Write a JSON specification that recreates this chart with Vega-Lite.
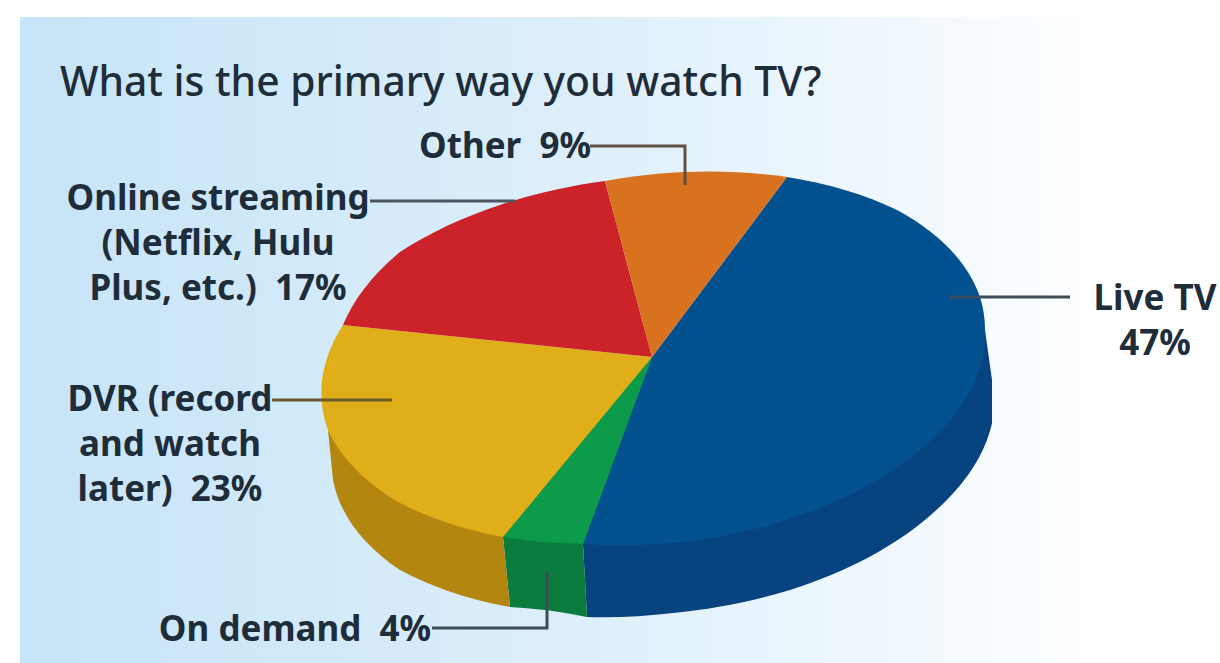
{"$schema":"https://vega.github.io/schema/vega-lite/v6.json","width":1220,"height":663,"padding":0,"autosize":{"type":"fit","contains":"padding"},"background":"#ffffff","view":{"stroke":null},
"datasets":{"shares":[{"category":"Live TV","share":47,"label":"Live TV\n47%"},{"category":"On demand","share":4,"label":"On demand\u00a0\u00a04%"},{"category":"DVR","share":23,"label":"DVR (record\nand watch\nlater)\u00a0\u00a023%"},{"category":"Online streaming","share":17,"label":"Online streaming\n(Netflix, Hulu\nPlus, etc.)\u00a0\u00a017%"},{"category":"Other","share":9,"label":"Other\u00a0\u00a09%"}]},
"data":{"name":"shares"},
"layer":[
{"data":{"values":[{"panel":"background"}]},"mark":{"type":"rect","fill":{"gradient":"linear","x1":0,"y1":0,"x2":1,"y2":0,"stops":[{"offset":0,"color":"#c6e4f7"},{"offset":0.45,"color":"#dceefa"},{"offset":0.78,"color":"#f4fafe"},{"offset":0.9,"color":"#ffffff"},{"offset":1,"color":"#ffffff"}]}},"encoding":{"x":{"value":20},"x2":{"value":1220},"y":{"value":17},"y2":{"value":663}}},
{"mark":{"type":"point","filled":true,"size":4,"opacity":1,"strokeWidth":0,"x":652,"y":357},"encoding":{"shape":{"field":"category","type":"nominal","legend":null,"scale":{"domain":["Live TV","On demand","DVR"],"range":["M333 -27L340 23L340 66A335 188 -6 0 1 281 156A335 188 -6 0 1 138 233A335 188 -6 0 1 21 256A335 188 -6 0 1 -65 260L-69 187L0 0Z","M-149 180L-142 250A335 188 -6 0 1 -65 260L-69 187L0 0Z","M-324 73L-319 123A335 188 -6 0 0 -252 213A335 188 -6 0 0 -142 250L-149 180L0 0Z"]}},"color":{"field":"category","type":"nominal","legend":null,"scale":{"domain":["Live TV","On demand","DVR"],"range":["#07437f","#0b7b3e","#b3860f"]}}},"transform":[{"filter":"datum.category==='Live TV'||datum.category==='On demand'||datum.category==='DVR'"}]},
{"mark":{"type":"point","filled":true,"size":4,"opacity":1,"strokeWidth":0,"x":652,"y":357},"encoding":{"shape":{"field":"category","type":"nominal","legend":null,"scale":{"domain":["Live TV","On demand","DVR","Online streaming","Other"],"range":["M0 0L135 -180A335 188 -6 0 1 245 -147A335 188 -6 0 1 328 -60A335 188 -6 0 1 333 -27A335 188 -6 0 1 320 31A335 188 -6 0 1 268 93A335 188 -6 0 1 184 144A335 188 -6 0 1 77 178A335 188 -6 0 1 -69 187Z","M0 0L-69 187A335 188 -6 0 1 -149 180Z","M0 0L-149 180A335 188 -6 0 1 -252 146A335 188 -6 0 1 -324 73A335 188 -6 0 1 -330 23A335 188 -6 0 1 -309 -32Z","M0 0L-309 -32A335 188 -6 0 1 -252 -105A335 188 -6 0 1 -152 -152A335 188 -6 0 1 -47 -176Z","M0 0L-47 -176A335 188 -6 0 1 135 -180Z"]}},"color":{"field":"category","type":"nominal","legend":null,"scale":{"domain":["Live TV","On demand","DVR","Online streaming","Other"],"range":["#04518f","#0c9a4b","#e0ae18","#cc2229","#d8721e"]}}}},
{"mark":{"type":"point","filled":false,"size":4,"opacity":1,"strokeWidth":3,"x":652,"y":357,"fill":"transparent"},"encoding":{"shape":{"field":"category","type":"nominal","legend":null,"scale":{"domain":["Live TV","On demand","DVR","Online streaming","Other"],"range":["M298 -60L418 -60","M-220 271L-105 271L-105 215","M-380 43L-260 43","M-282 -156L-137 -156","M-62 -211L33 -211L33 -172"]}},"color":{"field":"category","type":"nominal","legend":null,"scale":{"domain":["Live TV","On demand","DVR","Online streaming","Other"],"range":["#3d4c59","#3d4c59","#6b5a2c","#4d5660","#5f5042"]}}}},
{"data":{"values":[{"heading":"What is the primary way you watch TV?"}]},"mark":{"type":"text","x":60,"y":96,"align":"left","baseline":"alphabetic","font":"Noto Sans","fontSize":40.8,"fontWeight":500,"color":"#1f2d3a"},"encoding":{"text":{"field":"heading","type":"nominal"}}},
{"transform":[{"filter":"datum.category==='Live TV'"}],"mark":{"type":"text","x":1155,"y":299,"align":"center","baseline":"middle","lineBreak":"\n","lineHeight":45,"font":"Noto Sans","fontSize":35,"fontWeight":700,"color":"#1f2d3a"},"encoding":{"text":{"field":"label","type":"nominal"}}},
{"transform":[{"filter":"datum.category==='On demand'"}],"mark":{"type":"text","x":295,"y":630,"align":"center","baseline":"middle","font":"Noto Sans","fontSize":35,"fontWeight":700,"color":"#1f2d3a"},"encoding":{"text":{"field":"label","type":"nominal"}}},
{"transform":[{"filter":"datum.category==='DVR'"}],"mark":{"type":"text","x":170,"y":400,"align":"center","baseline":"middle","lineBreak":"\n","lineHeight":45,"font":"Noto Sans","fontSize":35,"fontWeight":700,"color":"#1f2d3a"},"encoding":{"text":{"field":"label","type":"nominal"}}},
{"transform":[{"filter":"datum.category==='Online streaming'"}],"mark":{"type":"text","x":218,"y":199,"align":"center","baseline":"middle","lineBreak":"\n","lineHeight":45,"font":"Noto Sans","fontSize":35,"fontWeight":700,"color":"#1f2d3a"},"encoding":{"text":{"field":"label","type":"nominal"}}},
{"transform":[{"filter":"datum.category==='Other'"}],"mark":{"type":"text","x":505,"y":147,"align":"center","baseline":"middle","font":"Noto Sans","fontSize":35,"fontWeight":700,"color":"#1f2d3a"},"encoding":{"text":{"field":"label","type":"nominal"}}}
],
"resolve":{"scale":{"shape":"independent","color":"independent"}}}
